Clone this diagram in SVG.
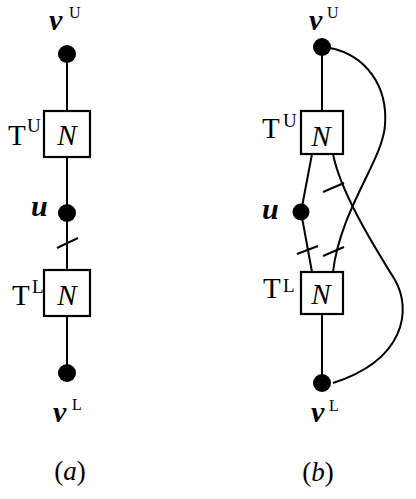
<svg xmlns="http://www.w3.org/2000/svg" width="416" height="499" viewBox="0 0 416 499">
<style>
.ln{stroke:#000;stroke-width:2;fill:none}
.box{stroke:#000;stroke-width:2.2;fill:#fff}
.dot{fill:#000}
.rm{font-family:"Liberation Serif","DejaVu Serif",serif;font-size:29px;fill:#000}
.sup{font-family:"Liberation Serif","DejaVu Serif",serif;font-size:19px;fill:#000}
.sup2{font-family:"Liberation Serif","DejaVu Serif",serif;font-size:16px;fill:#000}
.it{font-family:"Liberation Serif","DejaVu Serif",serif;font-size:29px;font-style:italic;fill:#000}
.bv{font-family:"Liberation Serif","DejaVu Serif",serif;font-size:30px;font-style:italic;font-weight:bold;fill:#000}
.cap{font-family:"Liberation Serif","DejaVu Serif",serif;font-size:27px;fill:#000}
</style>
<g id="connectors">
<line class="ln" x1="67" y1="54" x2="67" y2="111"/>
<line class="ln" x1="67" y1="157" x2="67" y2="270"/>
<line class="ln" x1="67" y1="316" x2="67" y2="373"/>
<line class="ln" x1="57" y1="248" x2="78" y2="238"/>
<line class="ln" x1="322" y1="47" x2="322" y2="111"/>
<line class="ln" x1="322" y1="314" x2="322" y2="383"/>
<polyline class="ln" points="312,154 301,212 312,272"/>
<path class="ln" d="M330 48 C365 55 388 85 385 125 C383 160 340 210 333 272"/>
<path class="ln" d="M333 154 C340 190 370 240 395 280 C412 310 405 360 333 383"/>
<line class="ln" x1="323" y1="192" x2="344" y2="183"/>
<line class="ln" x1="297" y1="254" x2="318" y2="246"/>
<line class="ln" x1="323" y1="256" x2="344" y2="247"/>
</g>
<g id="a-vU">
<circle class="dot" cx="67" cy="54" r="9"/>
<text class="bv" x="49" y="30">v</text><text class="sup2" x="69" y="18">U</text>
</g>
<g id="a-TU">
<rect class="box" x="44" y="111" width="46" height="46"/>
<text class="it" x="67" y="145" text-anchor="middle">N</text>
<text class="rm" x="8" y="145">T</text><text class="sup" x="27" y="132">U</text>
</g>
<g id="a-u">
<circle class="dot" cx="67" cy="213" r="9"/>
<text class="bv" x="31" y="216">u</text>
</g>
<g id="a-TL">
<rect class="box" x="44" y="270" width="46" height="46"/>
<text class="it" x="67" y="305" text-anchor="middle">N</text>
<text class="rm" x="12" y="305">T</text><text class="sup" x="32" y="293">L</text>
</g>
<g id="a-vL">
<circle class="dot" cx="67" cy="373" r="9"/>
<text class="bv" x="53" y="422">v</text><text class="sup2" x="72" y="410">L</text>
</g>
<text class="cap" x="70" y="480" text-anchor="middle">(<tspan font-style="italic">a</tspan>)</text>
<g id="b-vU">
<circle class="dot" cx="322" cy="47" r="9"/>
<text class="bv" x="309" y="30">v</text><text class="sup2" x="327" y="18">U</text>
</g>
<g id="b-TU">
<rect class="box" x="301" y="111" width="42" height="43"/>
<text class="it" x="321" y="146" text-anchor="middle">N</text>
<text class="rm" x="262" y="138">T</text><text class="sup" x="283" y="127">U</text>
</g>
<g id="b-u">
<circle class="dot" cx="301" cy="212" r="8.5"/>
<text class="bv" x="262" y="219">u</text>
</g>
<g id="b-TL">
<rect class="box" x="301" y="272" width="42" height="42"/>
<text class="it" x="321" y="304" text-anchor="middle">N</text>
<text class="rm" x="263" y="298">T</text><text class="sup" x="283" y="292">L</text>
</g>
<g id="b-vL">
<circle class="dot" cx="322" cy="383" r="9"/>
<text class="bv" x="311" y="422">v</text><text class="sup2" x="329" y="411">L</text>
</g>
<text class="cap" x="318" y="481" text-anchor="middle">(<tspan font-style="italic">b</tspan>)</text>
</svg>
